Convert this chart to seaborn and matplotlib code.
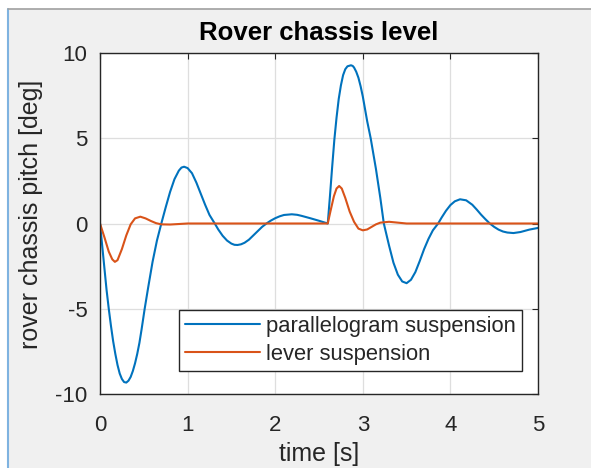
import matplotlib
matplotlib.use("Agg")
import matplotlib.pyplot as plt
from matplotlib.patches import Rectangle
from matplotlib.lines import Line2D
import seaborn as sns
import pandas as pd

# ---- data ----
t_parallel = [0.00, 0.025, 0.05, 0.075, 0.10, 0.125, 0.15, 0.175, 0.20, 0.225, 0.25,
              0.275, 0.30, 0.325, 0.35, 0.375, 0.40, 0.425, 0.45, 0.475, 0.51, 0.55,
              0.60, 0.65, 0.70, 0.75, 0.80, 0.85, 0.90, 0.93, 0.96, 1.00, 1.05,
              1.10, 1.15, 1.20, 1.25, 1.31, 1.35, 1.40, 1.45, 1.50, 1.535, 1.57,
              1.61, 1.65, 1.70, 1.75, 1.80, 1.85, 1.90, 1.95, 2.00, 2.05, 2.10,
              2.19, 2.25, 2.30, 2.40, 2.50, 2.60, 2.625, 2.65, 2.675, 2.70, 2.725,
              2.75, 2.775, 2.80, 2.825, 2.865, 2.885, 2.90, 2.925, 2.95, 2.975,
              3.00, 3.05, 3.09, 3.15, 3.20, 3.24, 3.30, 3.35, 3.40, 3.45, 3.50,
              3.55, 3.60, 3.65, 3.70, 3.75, 3.80, 3.86, 3.90, 3.95, 4.00, 4.05,
              4.11, 4.18, 4.25, 4.30, 4.35, 4.40, 4.45, 4.50, 4.55, 4.60, 4.65,
              4.72, 4.80, 4.85, 4.90, 5.00]
v_parallel = [0.0, -1.3, -2.6, -3.9, -5.0, -6.0, -6.9, -7.65, -8.3, -8.8, -9.12,
              -9.3, -9.33, -9.22, -9.0, -8.65, -8.2, -7.65, -7.0, -6.2, -5.0, -3.75,
              -2.25, -1.0, 0.0, 0.95, 1.85, 2.6, 3.1, 3.28, 3.33, 3.25, 2.95,
              2.4, 1.75, 1.1, 0.5, 0.0, -0.35, -0.72, -1.0, -1.18, -1.25, -1.26,
              -1.22, -1.13, -0.95, -0.7, -0.45, -0.2, 0.0, 0.17, 0.31, 0.42, 0.5,
              0.54, 0.51, 0.45, 0.31, 0.16, 0.0, 1.6, 3.3, 4.9, 6.2, 7.3,
              8.1, 8.7, 9.05, 9.22, 9.28, 9.24, 9.15, 8.9, 8.55, 8.05,
              7.45, 6.0, 5.0, 3.2, 1.5, 0.0, -1.3, -2.3, -3.0, -3.4, -3.5,
              -3.3, -2.85, -2.2, -1.5, -0.9, -0.4, 0.0, 0.35, 0.75, 1.08, 1.3,
              1.42, 1.36, 1.1, 0.82, 0.52, 0.25, 0.0, -0.2, -0.36, -0.47, -0.53,
              -0.56, -0.5, -0.43, -0.36, -0.26]

t_lever = [0.00, 0.05, 0.10, 0.14, 0.17, 0.20, 0.25, 0.30, 0.35, 0.40, 0.46, 0.52,
           0.58, 0.64, 0.70, 0.80, 0.90, 1.00, 1.50, 2.00, 2.60, 2.63, 2.67, 2.70,
           2.73, 2.76, 2.80, 2.85, 2.90, 2.95, 3.00, 3.05, 3.10, 3.15, 3.20, 3.30,
           3.40, 3.50, 4.00, 4.50, 5.00]
v_lever = [0.0, -0.8, -1.65, -2.1, -2.25, -2.15, -1.5, -0.7, -0.05, 0.3, 0.4, 0.3,
           0.15, 0.02, -0.05, -0.06, -0.03, 0.0, 0.0, 0.0, 0.0, 0.7, 1.6, 2.05,
           2.2, 2.05, 1.5, 0.7, 0.1, -0.3, -0.4, -0.35, -0.2, -0.05, 0.05, 0.1,
           0.05, 0.0, 0.0, 0.0, 0.0]

series_names = ["parallelogram suspension", "lever suspension"]
x_ticks = [0, 1, 2, 3, 4, 5]
y_ticks = [-10, -5, 0, 5, 10]

df = pd.concat([
    pd.DataFrame({"time": t_parallel, "pitch": v_parallel, "series": series_names[0]}),
    pd.DataFrame({"time": t_lever, "pitch": v_lever, "series": series_names[1]}),
])

sns.set_theme(style="white")
plt.rcParams["font.family"] = ["Liberation Sans", "DejaVu Sans"]

fig = plt.figure(figsize=(5.91, 4.68), dpi=100)
fig.patch.set_facecolor("white")
# gray panel with window-like border
fig.patches.append(Rectangle((8 / 591, 0), 1, 1 - 9 / 468, transform=fig.transFigure,
                             facecolor="#f0f0f0", edgecolor="none", zorder=-10))
fig.lines.append(Line2D([8 / 591, 8 / 591], [0, 1 - 9 / 468], transform=fig.transFigure,
                        color="#7fb3e0", lw=1.5))
fig.lines.append(Line2D([8 / 591, 1], [1 - 9 / 468, 1 - 9 / 468], transform=fig.transFigure,
                        color="#a0a0a0", lw=1.2))

ax = fig.add_axes([100 / 591, 1 - 394 / 468, 438 / 591, 341 / 468])
ax.set_facecolor("white")

sns.lineplot(data=df, x="time", y="pitch", hue="series", hue_order=series_names,
             palette=["#0072BD", "#D95319"], linewidth=1.5, ax=ax, sort=False,
             estimator=None)

ax.set_xlim(0, 5)
ax.set_ylim(-10, 10)
ax.set_xticks(x_ticks)
ax.set_yticks(y_ticks)
ax.set_xticklabels([str(v) for v in x_ticks])
ax.set_yticklabels([str(v) for v in y_ticks])
ax.grid(True, color="#dedede", linewidth=0.9)
ax.set_axisbelow(True)
for s in ax.spines.values():
    s.set_visible(True)
    s.set_color("#262626")
    s.set_linewidth(1.0)
ax.tick_params(direction="in", length=4, width=0.8, colors="#262626",
               top=True, right=True, labelsize=16, labelcolor="#262626")
ax.tick_params(axis="x", pad=15)
ax.tick_params(axis="y", pad=9)

ax.set_xlabel("time [s]", fontsize=18, color="#262626", va="top")
ax.xaxis.set_label_coords(0.5, -0.141)
ax.set_ylabel("rover chassis pitch [deg]", fontsize=18, color="#262626")
ax.yaxis.set_label_coords(-0.13, 0.528)
ax.set_title("Rover chassis level", fontsize=18.5, fontweight="bold", color="#000000", pad=9)

leg = ax.legend(loc="lower right", bbox_to_anchor=(0.963, 0.067), fontsize=15.8,
                frameon=True, fancybox=False, edgecolor="#262626", framealpha=1,
                handlelength=3.4, handletextpad=0.28, labelspacing=0.33,
                borderpad=0.28, borderaxespad=0)
leg.get_frame().set_linewidth(1.0)
for h in leg.get_lines():
    h.set_linewidth(1.5)

fig.savefig("out.png", dpi=100)
